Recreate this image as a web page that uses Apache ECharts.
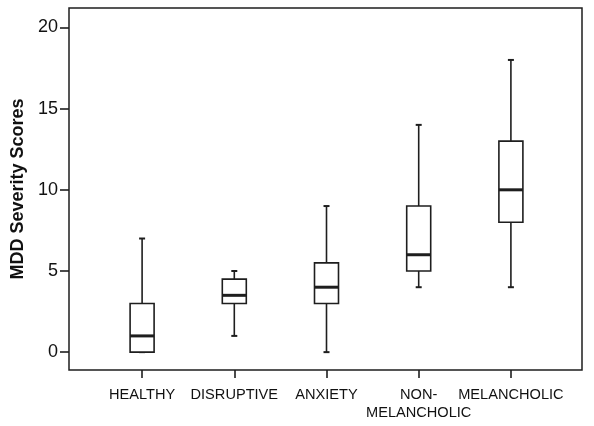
<!DOCTYPE html>
<html>
<head>
<meta charset="utf-8">
<script src="https://cdn.jsdelivr.net/npm/echarts@6/dist/echarts.min.js"></script>
<style>
html,body{margin:0;padding:0;background:#fff;}
#chart{width:594px;height:426px;}
</style>
</head>
<body>
<div id="chart"></div>
<script>
const categories = ['HEALTHY', 'DISRUPTIVE', 'ANXIETY', 'NON-\nMELANCHOLIC', 'MELANCHOLIC'];
const whiskerLow = [0, 1, 0, 4, 4];
const q1Values = [0, 3, 3, 5, 8];
const medianValues = [1, 3.5, 4, 6, 10];
const q3Values = [3, 4.5, 5.5, 9, 13];
const whiskerHigh = [7, 5, 9, 14, 18];
const yTickValues = [0, 5, 10, 15, 20];

const data = categories.map((c, i) => [i, whiskerLow[i], q1Values[i], medianValues[i], q3Values[i], whiskerHigh[i]]);

const lineColor = '#1e1e1e';
const chart = echarts.init(document.getElementById('chart'));

function renderItem(params, api) {
  const idx = api.value(0);
  const pLow = api.coord([idx, api.value(1)]);
  const pQ1 = api.coord([idx, api.value(2)]);
  const pMed = api.coord([idx, api.value(3)]);
  const pQ3 = api.coord([idx, api.value(4)]);
  const pHigh = api.coord([idx, api.value(5)]);
  const cx = pMed[0];
  const bw = 24, cw = 6;
  const st = {stroke: lineColor, lineWidth: 1.6, fill: null};
  return {
    type: 'group',
    children: [
      {type: 'line', shape: {x1: cx, y1: pQ3[1], x2: cx, y2: pHigh[1]}, style: st},
      {type: 'line', shape: {x1: cx, y1: pQ1[1], x2: cx, y2: pLow[1]}, style: st},
      {type: 'line', shape: {x1: cx - cw / 2, y1: pHigh[1], x2: cx + cw / 2, y2: pHigh[1]}, style: {stroke: lineColor, lineWidth: 2}},
      {type: 'line', shape: {x1: cx - cw / 2, y1: pLow[1], x2: cx + cw / 2, y2: pLow[1]}, style: {stroke: lineColor, lineWidth: 2}},
      {type: 'rect', shape: {x: cx - bw / 2, y: pQ3[1], width: bw, height: pQ1[1] - pQ3[1]}, style: {stroke: lineColor, lineWidth: 1.6, fill: '#fff'}},
      {type: 'line', shape: {x1: cx - bw / 2, y1: pMed[1], x2: cx + bw / 2, y2: pMed[1]}, style: {stroke: lineColor, lineWidth: 3}}
    ]
  };
}

chart.setOption({
  animation: false,
  backgroundColor: '#fff',
  grid: [
    {left: 96, width: 461, top: 8, bottom: 56, show: false, outerBoundsMode: 'none', containLabel: false},
    {left: 69, right: 12, top: 8, bottom: 56, show: true, borderColor: lineColor, borderWidth: 1.5, backgroundColor: 'transparent', outerBoundsMode: 'none', containLabel: false}
  ],
  xAxis: [
    {
      type: 'category', gridIndex: 0, data: categories, boundaryGap: true,
      axisLine: {show: false, onZero: false},
      axisTick: {show: true, alignWithLabel: true, length: 8, lineStyle: {color: lineColor, width: 1.6}},
      axisLabel: {color: '#111', fontFamily: 'Liberation Sans, Arial, sans-serif', fontSize: 14.6, margin: 16, lineHeight: 18, interval: 0}
    },
    {type: 'value', gridIndex: 1, show: false, min: 0, max: 1}
  ],
  yAxis: [
    {
      type: 'value', gridIndex: 0, min: -1.1, max: 21.2, offset: 27,
      name: 'MDD Severity Scores', nameLocation: 'middle', nameGap: 42, nameRotate: 90,
      nameTextStyle: {color: '#111', fontFamily: 'Liberation Sans, Arial, sans-serif', fontSize: 18, fontWeight: 'bold'},
      axisLine: {show: false, onZero: false},
      splitLine: {show: false},
      axisTick: {show: true, length: 9, customValues: yTickValues, lineStyle: {color: lineColor, width: 1.6}},
      axisLabel: {customValues: yTickValues, color: '#111', fontFamily: 'Liberation Sans, Arial, sans-serif', fontSize: 18, margin: 11}
    },
    {type: 'value', gridIndex: 1, show: false, min: 0, max: 1}
  ],
  series: [{
    type: 'custom',
    xAxisIndex: 0, yAxisIndex: 0,
    renderItem: renderItem,
    encode: {x: 0, y: [1, 2, 3, 4, 5]},
    data: data
  }]
});
</script>
</body>
</html>
